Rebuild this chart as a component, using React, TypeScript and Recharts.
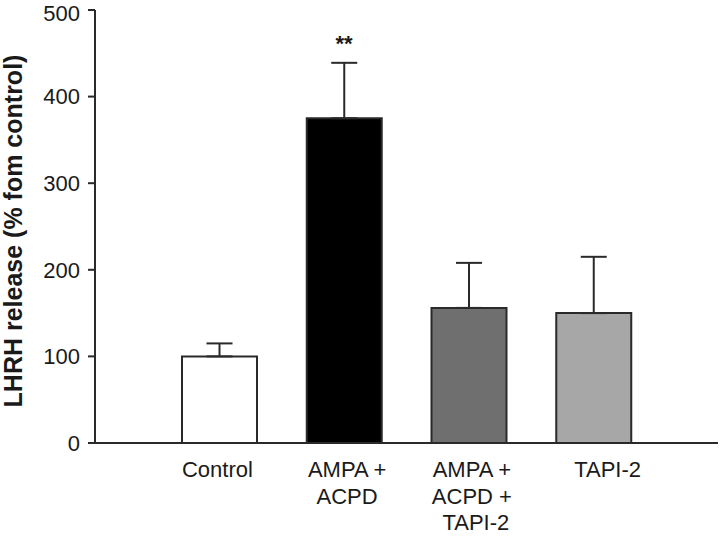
import React from "react";
import {
  BarChart,
  Bar,
  XAxis,
  YAxis,
  Cell,
  ErrorBar,
  ReferenceDot,
} from "recharts";

// data
const groups = ["Control", "AMPA +\nACPD", "AMPA +\nACPD +\nTAPI-2", "TAPI-2"];
const release = [100, 375, 156, 150];
const semUp = [15, 64, 52, 65];
const fills = ["#ffffff", "#000000", "#6f6f6f", "#a7a7a7"];
const yTicks = [0, 100, 200, 300, 400, 500];

const chartData = groups.map((g, i) => ({
  group: g,
  value: release[i],
  err: [0, semUp[i]],
}));

const FONT = "'Liberation Sans', Arial, sans-serif";

// the original labels are not quite centred under their bars
const labelShift: Record<string, number> = {
  Control: -2,
  "AMPA +\nACPD": 3,
  "AMPA +\nACPD +\nTAPI-2": 3,
  "TAPI-2": 14,
};

// multi-line category labels
const GroupTick = ({ x, y, payload }: any) => {
  const lines: string[] = String(payload.value).split("\n");
  const dx = labelShift[payload.value] || 0;
  return (
    <g>
      {lines.map((line, i) => (
        <text
          key={i}
          x={x + dx + (i === 2 ? 4 : 0)}
          y={y + 26 + i * 26.5}
          textAnchor="middle"
          fontFamily={FONT}
          fontSize={22}
          fill="#1a1a1a"
        >
          {line}
        </text>
      ))}
    </g>
  );
};

const YTitle = () => (
  <text
    x={13}
    y={231}
    transform="rotate(-90 13 231)"
    textAnchor="middle"
    dominantBaseline="central"
    fontFamily={FONT}
    fontSize={25}
    fontWeight="bold"
    fill="#1a1a1a"
  >
    LHRH release (% fom control)
  </text>
);

export default function App() {
  return (
    <div style={{ position: "absolute", left: 0, top: 0, width: 720, height: 536, background: "#fff" }}>
      <BarChart
        width={720}
        height={536}
        data={chartData}
        margin={{ top: 10, right: 2, left: 0, bottom: 0 }}
      >
        <XAxis
          dataKey="group"
          height={93}
          padding={{ left: 62, right: 62 }}
          axisLine={{ stroke: "#2a2a2a", strokeWidth: 2 }}
          tickLine={false}
          tick={<GroupTick />}
          interval={0}
        />
        <YAxis
          width={95}
          domain={[0, 500]}
          ticks={yTicks}
          axisLine={{ stroke: "#2a2a2a", strokeWidth: 2 }}
          tickLine={{ stroke: "#2a2a2a", strokeWidth: 2 }}
          tickSize={7}
          tickMargin={8}
          tick={{ fontFamily: FONT, fontSize: 22, fill: "#1a1a1a" }}
          label={<YTitle />}
        />
        <Bar
          dataKey="value"
          barSize={75}
          stroke="#2a2a2a"
          strokeWidth={2}
          isAnimationActive={false}
        >
          {chartData.map((d, i) => (
            <Cell key={d.group} fill={fills[i]} />
          ))}
          <ErrorBar
            dataKey="err"
            width={13}
            stroke="#2a2a2a"
            strokeWidth={2}
            direction="y"
          />
        </Bar>
        <ReferenceDot
          x={groups[1]}
          y={462}
          r={0}
          fill="none"
          stroke="none"
          label={{ value: "**", position: "center", fontFamily: FONT, fontSize: 22, fontWeight: "bold", fill: "#1a1a1a" }}
        />
      </BarChart>
    </div>
  );
}
